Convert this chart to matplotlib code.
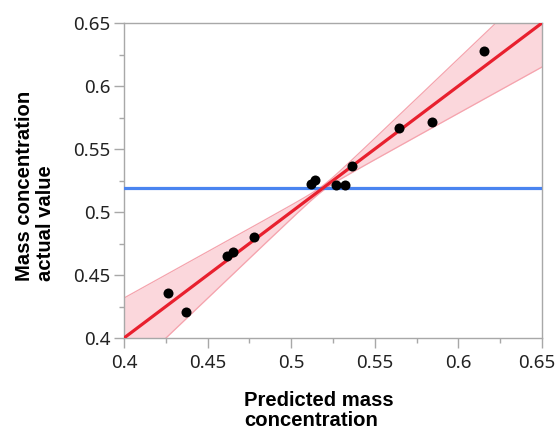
import matplotlib
matplotlib.use("Agg")
import matplotlib.pyplot as plt
import matplotlib.transforms as mtransforms
import numpy as np
from matplotlib.ticker import MultipleLocator

predicted = [0.4263, 0.4371, 0.4618, 0.4654, 0.4778, 0.5117, 0.5142,
             0.5266, 0.5324, 0.5366, 0.5647, 0.5840, 0.6155]
actual = [0.4361, 0.4209, 0.4653, 0.4682, 0.4802, 0.5226, 0.5255,
          0.5213, 0.5213, 0.5367, 0.5664, 0.5714, 0.6277]

# horizontal mean line and the shaded confidence curves
mean_actual = 0.519
band_center = 0.519
band_waist = 0.002
band_spread = 0.266

ticks = [0.4, 0.45, 0.5, 0.55, 0.6, 0.65]
tick_labels = ["0.4", "0.45", "0.5", "0.55", "0.6", "0.65"]

fig = plt.figure(figsize=(5.58, 4.30), dpi=100)
ax = fig.add_axes([124 / 558, 1 - 338 / 430, 418 / 558, 315 / 430])

xs = np.linspace(0.4, 0.65, 300)
hw = np.sqrt(band_waist ** 2 + band_spread ** 2 * (xs - band_center) ** 2)
ax.fill_between(xs, xs - hw, xs + hw, color="#fbd7dc", lw=0, zorder=1)
ax.plot(xs, xs - hw, color="#f5a3ad", lw=0.9, zorder=2)
ax.plot(xs, xs + hw, color="#f5a3ad", lw=0.9, zorder=2)

ax.axhline(mean_actual, color="#4a84f0", lw=2.3, zorder=3)
ax.plot([0.4, 0.65], [0.4, 0.65], color="#e8202e", lw=2.3, zorder=4)
ax.scatter(predicted, actual, s=52, color="black", zorder=5, linewidths=0)

ax.set_xlim(0.4, 0.65)
ax.set_ylim(0.4, 0.65)
ax.set_xticks(ticks)
ax.set_xticklabels(tick_labels)
ax.set_yticks(ticks)
ax.set_yticklabels(tick_labels)
ax.xaxis.set_minor_locator(MultipleLocator(0.025))
ax.yaxis.set_minor_locator(MultipleLocator(0.025))

for sp in ax.spines.values():
    sp.set_color("#a8a8a8")
    sp.set_linewidth(1.0)
ax.tick_params(which="major", length=7.2, width=1.0, color="#a8a8a8",
               labelsize=13.5, labelcolor="#222222")
ax.tick_params(axis="y", which="major", pad=2.5)
ax.tick_params(axis="x", which="major", pad=4.5)
ax.tick_params(which="minor", length=3.6, width=1.0, color="#a8a8a8")
for lab in ax.get_xticklabels() + ax.get_yticklabels():
    lab.set_family("Noto Sans")

# last x label is nudged left so it stays inside the picture
last = ax.get_xticklabels()[-1]
last.set_transform(last.get_transform() +
                   mtransforms.ScaledTranslation(-5 / 100, 0, fig.dpi_scale_trans))

fig.text(244 / 558, 1 - 391 / 430, "Predicted mass\nconcentration",
         ha="left", va="top", fontsize=14.6, fontweight="bold",
         family="Liberation Sans", linespacing=1.05)
fig.text(35 / 558, 1 - 281 / 430, "Mass concentration\nactual value",
         ha="center", va="bottom", rotation=90, multialignment="left",
         fontsize=14.6, fontweight="bold", family="Liberation Sans",
         linespacing=1.1)

fig.savefig("out.png", dpi=100)
